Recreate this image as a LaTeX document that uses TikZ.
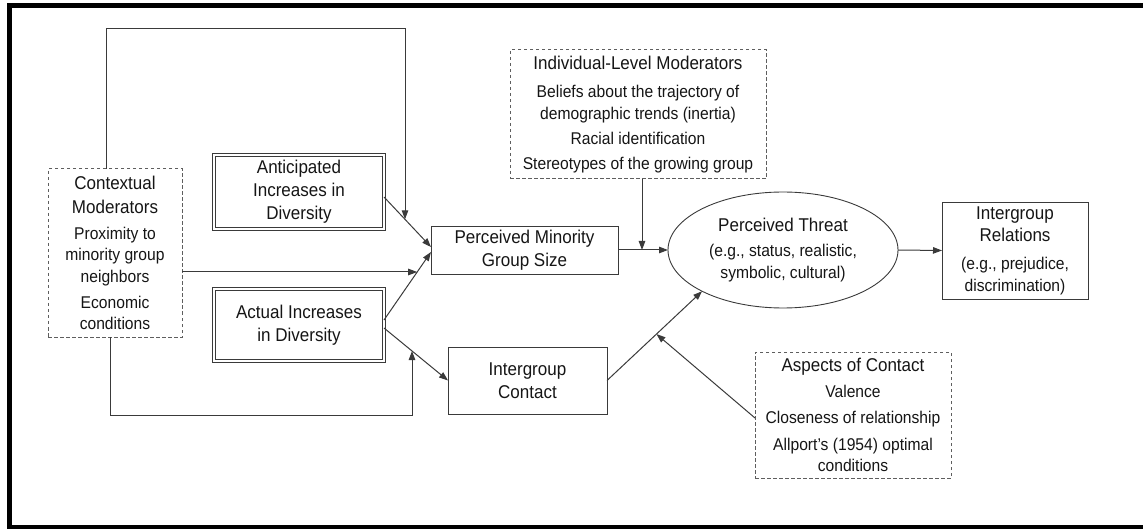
\documentclass[tikz,border=0pt]{standalone}
\usepackage{fontspec}
\setmainfont[FakeStretch=0.92]{Liberation Sans}
\usetikzlibrary{arrows.meta,shapes.geometric,calc}
\definecolor{lncol}{HTML}{3A3A3A}
\definecolor{dashcol}{HTML}{5E5E5E}
\definecolor{txtcol}{HTML}{151515}
\newcommand\ttlfont{\fontsize{18.5}{23}\selectfont}
\newcommand\bdyfont{\fontsize{17}{21.5}\selectfont}

\begin{document}
\begin{tikzpicture}[x=1pt,y=-1pt,
  ln/.style={draw=lncol, line width=1pt},
  arr/.style={ln, -{Triangle[length=9pt,width=6.5pt]}},
  solidbox/.style={draw=lncol, line width=0.9pt, rectangle, align=center,
    inner sep=0pt, outer sep=0pt, text=txtcol, font=\ttlfont},
  dblbox/.style={solidbox, double=white, double distance=2.2pt, line width=0.9pt},
  dashbox/.style={draw=dashcol, dash pattern=on 3.5pt off 2.5pt, line width=1pt,
    rectangle, align=center, inner sep=0pt, outer sep=0pt, text=txtcol, font=\bdyfont},
]
\useasboundingbox (0,0) rectangle (1143,529);

% outer frame
\draw[line width=4.5pt, black] (1143,5.5) -- (9.5,5.5) -- (9.5,527.5) -- (1143,527.5);

% moderator boxes
\node[dashbox, minimum width=134pt, minimum height=168pt] (ctx) at (115,253)
  {\ttlfont Contextual\\[2.5pt]\ttlfont Moderators\\[4.5pt]Proximity to\\minority group\\neighbors\\[4.5pt]Economic\\conditions};
\node[dashbox, minimum width=256pt, minimum height=129pt] (ind) at (638,114.5)
  {\ttlfont Individual-Level Moderators\\[6.5pt]Beliefs about the trajectory of\\demographic trends (inertia)\\[3.5pt]Racial identification\\[3.5pt]Stereotypes of the growing group};
\node[dashbox, minimum width=196pt, minimum height=126pt] (asp) at (853,415)
  {\ttlfont Aspects of Contact\\[4.5pt]Valence\\[4.5pt]Closeness of relationship\\[5.5pt]Allport’s (1954) optimal\\conditions};

% main boxes
\node[dblbox, minimum width=170pt, minimum height=74pt] (ant) at (299,192)
  {Anticipated\\Increases in\\Diversity};
\node[dblbox, minimum width=170pt, minimum height=72pt] (act) at (299,325)
  {Actual Increases\\in Diversity};
\node[solidbox, minimum width=187pt, minimum height=48pt] (pmg) at (524.5,250)
  {Perceived Minority\\Group Size};
\node[solidbox, minimum width=159pt, minimum height=67pt] (con) at (527.5,380.5)
  {Intergroup\\Contact};
\node[ellipse, draw=lncol, line width=0.9pt, minimum width=230pt, minimum height=116pt,
  inner sep=0pt, outer sep=0pt, align=center, text=txtcol, font=\bdyfont] (thr) at (783,250)
  {\ttlfont Perceived Threat\\[3.5pt](e.g., status, realistic,\\symbolic, cultural)};
\node[solidbox, minimum width=146pt, minimum height=97pt, font=\bdyfont] (rel) at (1015,250.5)
  {\ttlfont Intergroup\\[1pt]\ttlfont Relations\\[6.5pt](e.g., prejudice,\\discrimination)};

% junction points on the paths
\coordinate (j1) at (417.2,272);
\coordinate (j2) at (405,219.3);
\coordinate (j3) at (412,351);
\coordinate (j4) at (642,250);
\coordinate (t1) at (405,29);
\coordinate (b1) at (412,415);
\coordinate (j5) at ($(con.east)!0.52!(thr.207)$);

% connectors
\draw[arr] ([yshift=-5pt]ant.east) -- ([yshift=3pt]pmg.west);
\draw[arr] ([yshift=5pt]act.east) -- ([yshift=-2pt]pmg.west);
\draw[arr] ([yshift=-3pt]act.east) -- (con.west);
\draw[arr] (pmg.east) -- (thr.west);
\draw[arr] (con.east) -- (thr.207);
\draw[arr] (thr.east) -- (rel.west);

% moderating influences
\draw[arr] ([xshift=-9pt]ctx.north) |- (t1) -- (j2);
\draw[arr] ([yshift=-19pt]ctx.east) -- (j1);
\draw[arr] ([xshift=-5pt]ctx.south) |- (b1) -- (j3);
\draw[arr] ([xshift=4pt]ind.south) -- (j4);
\draw[arr] ([yshift=-3pt]asp.west) -- (j5);
\end{tikzpicture}
\end{document}
